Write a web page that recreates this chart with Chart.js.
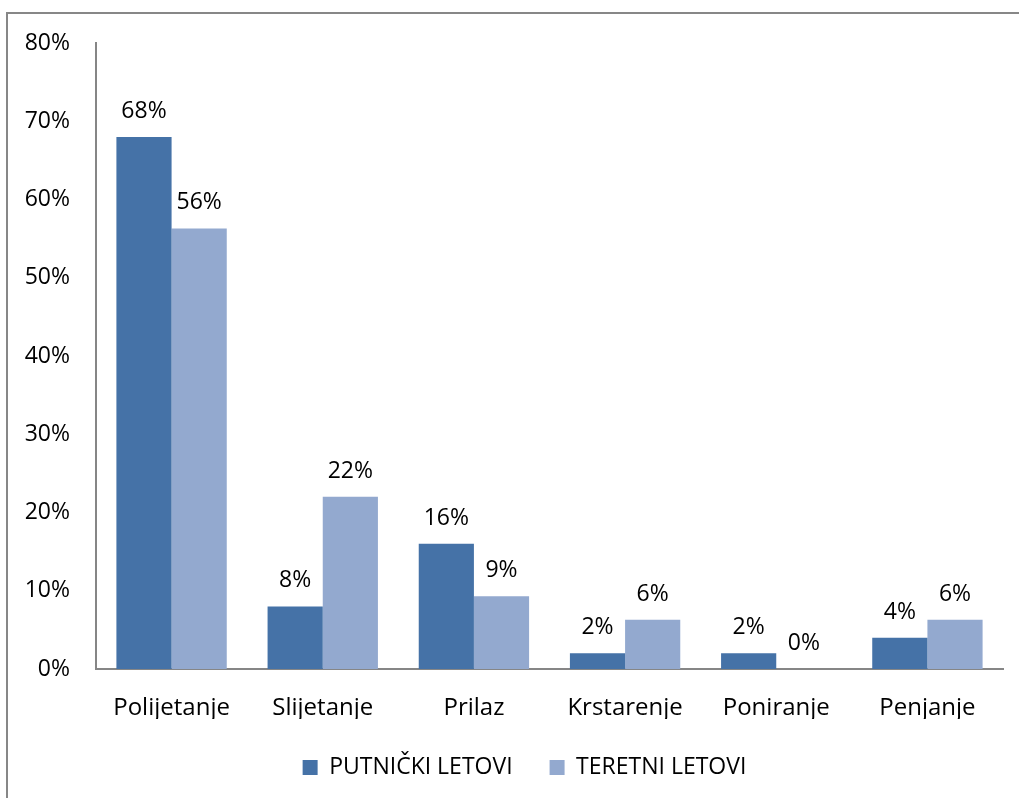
<!DOCTYPE html>
<html>
<head>
<meta charset="utf-8">
<script src="https://cdn.jsdelivr.net/npm/chart.js@4/dist/chart.umd.min.js"></script>
<style>
  html, body { margin: 0; padding: 0; background: #fff; }
  canvas { display: block; }
</style>
</head>
<body>
<canvas id="phaseChart" width="1019" height="798"></canvas>
<script>
// Flight phases and share of accidents per flight type
const categories = ['Polijetanje', 'Slijetanje', 'Prilaz', 'Krstarenje', 'Poniranje', 'Penjanje'];
const passengerValues = [68, 8, 16, 2, 2, 4];
const cargoValues = [56.3, 22, 9.3, 6.3, 0, 6.3];
const seriesNames = ['PUTNIČKI LETOVI', 'TERETNI LETOVI'];
const yTicks = [0, 10, 20, 30, 40, 50, 60, 70, 80];

const FONT = '"Open Sans", "Noto Sans", sans-serif';

// Frame round the chart (only top and left edges are visible in the picture)
const framePlugin = {
    id: 'frame',
    beforeDraw(chart) {
        const c = chart.ctx;
        c.save();
        c.fillStyle = '#fff';
        c.fillRect(0, 0, chart.width, chart.height);
        c.strokeStyle = '#878787';
        c.lineWidth = 2;
        c.beginPath();
        c.moveTo(chart.width, 13);
        c.lineTo(7, 13);
        c.lineTo(7, chart.height);
        c.stroke();
        c.restore();
    }
};

// Legend sits a bit right of the canvas centre in the original
const legendShift = {
    id: 'legendShift',
    afterLayout(chart) {
        if (chart.legend) {
            chart.legend.left += 23;
            chart.legend.right += 23;
        }
    }
};

// Value labels above each bar
const valueLabels = {
    id: 'valueLabels',
    afterDatasetsDraw(chart) {
        const c = chart.ctx;
        c.save();
        c.font = '23px ' + FONT;
        c.fillStyle = '#000';
        c.textAlign = 'center';
        c.textBaseline = 'alphabetic';
        chart.data.datasets.forEach((ds, i) => {
            chart.getDatasetMeta(i).data.forEach((bar, j) => {
                c.fillText(Math.round(ds.data[j]) + '%', bar.x, bar.y - 19);
            });
        });
        c.restore();
    }
};

new Chart(document.getElementById('phaseChart'), {
    type: 'bar',
    data: {
        labels: categories,
        datasets: [{
            label: seriesNames[0],
            data: passengerValues,
            backgroundColor: '#4572A7'
        }, {
            label: seriesNames[1],
            data: cargoValues,
            backgroundColor: '#93A9CF'
        }]
    },
    options: {
        responsive: false,
        animation: false,
        devicePixelRatio: 1,
        datasets: {
            bar: { categoryPercentage: 0.73, barPercentage: 1.0 }
        },
        layout: {
            padding: { top: 43, right: 16, bottom: 9, left: 0 }
        },
        plugins: {
            legend: {
                position: 'bottom',
                labels: {
                    color: '#000',
                    font: { size: 23, family: FONT },
                    boxWidth: 15,
                    boxHeight: 15,
                    padding: 37
                }
            },
            tooltip: { enabled: false }
        },
        scales: {
            x: {
                grid: { display: false, drawTicks: false },
                border: { color: '#868686', width: 2 },
                ticks: {
                    color: '#000',
                    font: { size: 24, family: FONT },
                    padding: 25,
                    maxRotation: 0
                },
                afterFit(scale) { scale.height = 50; }
            },
            y: {
                min: 0,
                max: 80,
                afterBuildTicks(scale) {
                    scale.ticks = yTicks.map(v => ({ value: v }));
                },
                grid: { display: false, drawTicks: false },
                border: { color: '#868686', width: 2 },
                ticks: {
                    color: '#000',
                    font: { size: 23, family: FONT },
                    padding: 26,
                    callback: v => v + '%'
                },
                afterFit(scale) { scale.width = 96; }
            }
        }
    },
    plugins: [framePlugin, legendShift, valueLabels]
});
</script>
</body>
</html>
